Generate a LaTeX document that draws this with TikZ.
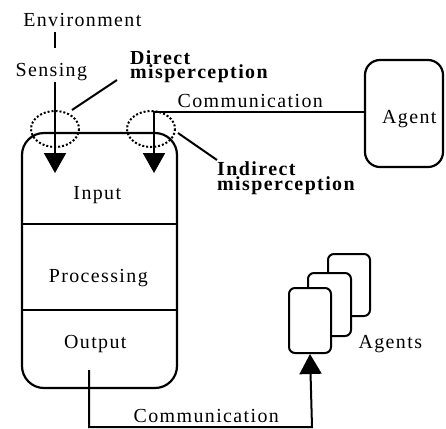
\documentclass[tikz,border=0pt]{standalone}
\usepackage{fontspec}
\setmainfont{Liberation Serif}[RawFeature={-ccmp}]
\usetikzlibrary{arrows.meta}
\newcommand\spcd[1]{\spcdA#1\relax}
\def\spcdA#1{\ifx#1\relax\else#1\kern1.4bp\expandafter\spcdA\fi}
\begin{document}
\begin{tikzpicture}[x=1bp,y=-1bp,
  lbl/.style={font=\fontsize{20}{20}\selectfont, inner sep=0pt, anchor=base},
  blbl/.style={font=\fontsize{20}{15}\selectfont\bfseries, inner sep=0pt, anchor=base west},
  boxline/.style={line width=2.2bp, rounded corners=22bp},
  conn/.style={line width=2bp},
  tri/.style={-{Triangle[width=22bp,length=20bp]}},
  dotc/.style={line width=2bp, dotted},
  agbox/.style={draw, line width=2bp, rounded corners=6bp, fill=white}
]
\useasboundingbox (0,0) rectangle (446,428);
% main box
\draw[boxline] (22,133) rectangle (177,388);
\draw[line width=1.5bp] (22,224) -- (177,224);
\draw[line width=1.5bp] (22,310) -- (177,310);
\node[lbl] (input) at (98,199) {\spcd{Input}};
\node[lbl] (proc) at (99,282) {\spcd{Processing}};
\node[lbl] (output) at (96,348) {\spcd{Output}};
% environment
\node[lbl] (env) at (83,26) {\spcd{Environment}};
\node[lbl] (sens) at (52,76) {\spcd{Sensing}};
\coordinate (e1) at (55,32);
\coordinate (e2) at (55,48);
\draw[conn] (e1) -- (e2);
\coordinate (s1) at (55,82);
\coordinate (s2) at (55,173);
\draw[conn,tri] (s1) -- (s2);
% agent box
\draw[boxline, rounded corners=15bp] (365,60) rectangle (443,167);
\node[lbl] (agent) at (410,123) {\spcd{Agent}};
\coordinate (a1) at (365,112);
\coordinate (c1) at (154,112);
\coordinate (c2) at (154,173);
\draw[conn,tri] (a1) -- (c1) -- (c2);
\node[lbl] (comm1) at (251,107) {\spcd{Communication}};
% dotted ellipses
\draw[dotc] (55,129) ellipse [x radius=24, y radius=18];
\draw[dotc] (151,129) ellipse [x radius=24, y radius=18];
\coordinate (d1) at (72,110);
\coordinate (d2) at (117,80);
\draw[conn] (d1) -- (d2);
\coordinate (i1) at (178,133);
\coordinate (i2) at (217,160);
\draw[conn] (i1) -- (i2);
\node[blbl] (dm1) at (130,64) {\spcd{Direct}};
\node[blbl] (dm2) at (130,78) {\spcd{misperception}};
\node[blbl] (im1) at (217,175) {\spcd{Indirect}};
\node[blbl] (im2) at (217,190) {\spcd{misperception}};
% agents
\node[agbox, minimum width=42bp, minimum height=62bp] (ag3) at (349,285) {};
\node[agbox, minimum width=43bp, minimum height=63bp] (ag2) at (329.5,304.5) {};
\node[agbox, minimum width=42bp, minimum height=65bp] (ag1) at (310,320.5) {};
\node[lbl] (agents) at (391,348) {\spcd{Agents}};
% output communication
\coordinate (o1) at (89,370);
\coordinate (o2) at (89,427);
\coordinate (o3) at (312,427);
\draw[conn,tri] (o1) -- (o2) -- (o3) -- (ag1.south);
\node[lbl] (comm2) at (207,422) {\spcd{Communication}};
\end{tikzpicture}
\end{document}
